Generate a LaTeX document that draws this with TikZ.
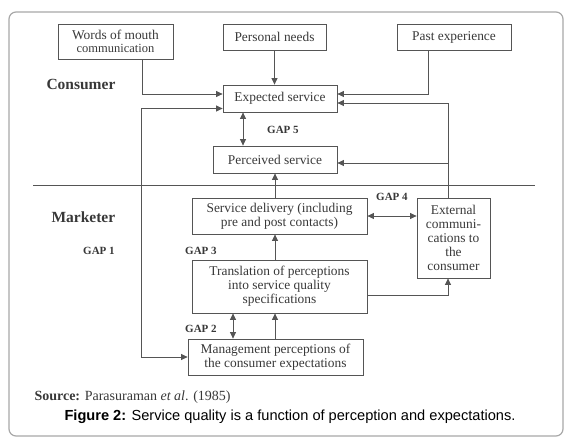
\documentclass[tikz,border=0pt]{standalone}
\usepackage{fontspec}
\setmainfont{Liberation Serif}
\newfontfamily\capfont{Liberation Sans}
\usepackage{xcolor}
\usetikzlibrary{arrows.meta, positioning, calc}
\definecolor{linegray}{HTML}{555555}
\definecolor{textgray}{HTML}{383838}
\definecolor{framegray}{HTML}{A8A8A8}
\begin{document}
\begin{tikzpicture}[x=1pt,y=-1pt,
		box/.style={draw=linegray,line width=0.8pt,text=textgray,align=center,inner sep=2pt,font=\fontsize{13.4}{14}\selectfont},
		conn/.style={draw=linegray,line width=0.8pt,-{Triangle[length=6.5pt,width=6pt]}},
		dconn/.style={draw=linegray,line width=0.8pt,{Triangle[length=6.5pt,width=6pt]}-{Triangle[length=6.5pt,width=6pt]}},
		side/.style={anchor=west,text=textgray,font=\fontsize{15.5}{16}\bfseries\selectfont},
		gap/.style={anchor=west,text=textgray,inner sep=0pt,font=\fontsize{11}{12}\bfseries\selectfont}]
		\useasboundingbox (0,0) rectangle (572,441);
		\draw [framegray,line width=1.2pt,rounded corners=7pt] (9,12) rectangle (563,436);
		\node [box,minimum width=115pt,minimum height=35pt] at (115.5,41.5) (wom) {Words of mouth\\[-1pt]{\fontsize{12.5}{13}\selectfont communication}};
		\node [box,minimum width=103pt,minimum height=26pt] at (274.5,37) (needs) {Personal needs};
		\node [box,minimum width=114pt,minimum height=26pt] at (454,37) (past) {Past experience};
		\node [box,minimum width=114pt,minimum height=27pt] at (280,98.5) (exp) {Expected service};
		\node [box,minimum width=124pt,minimum height=27pt] at (275,159.5) (perc) {Perceived service};
		\node [box,minimum width=175pt,minimum height=36pt] at (279.5,216) (deliv) {Service delivery (including\\pre and post contacts)};
		\node [box,minimum width=73pt,minimum height=80pt] at (453.5,238) (ext) {External\\communi-\\cations to\\the\\consumer};
		\node [box,minimum width=175pt,minimum height=53pt] at (279.5,286.5) (trans) {Translation of perceptions\\into service quality\\specifications};
		\node [box,minimum width=175pt,minimum height=36pt] at (275.5,357) (mgmt) {Management perceptions of\\the consumer expectations};
		\coordinate (extup) at ([xshift=-5.5pt]ext.north);
		\coordinate (gapone) at ([xshift=-46pt]mgmt.west);
		\draw [linegray,line width=0.6pt] (33,185) -- (535,185);
		\draw [conn] ([xshift=26.5pt]wom.south) |- ([yshift=4.5pt]exp.west);
		\draw [conn] (needs.south) -- (needs.south |- exp.north);
		\draw [conn] ([xshift=-26pt]past.south) |- ([yshift=4.5pt]exp.east);
		\draw [conn] (extup) |- ([yshift=-4.5pt]exp.east);
		\draw [conn] ([yshift=-3.5pt]perc.east -| extup) -- ([yshift=-3.5pt]perc.east);
		\draw [dconn] ([xshift=-37pt]exp.south) -- ([xshift=-37pt]exp.south |- perc.north);
		\draw [dconn] ([yshift=-10pt]exp.west) -| (gapone) -- (mgmt.west);
		\draw [conn] (perc.south |- deliv.north) -- (perc.south);
		\draw [dconn] (deliv.east) -- (deliv.east -| ext.west);
		\draw [conn] (perc.south |- trans.north) -- (perc.south |- deliv.south);
		\draw [conn] ([yshift=-8.5pt]trans.east) -| (extup |- ext.south);
		\draw [conn] (perc.south |- mgmt.north) -- (perc.south |- trans.south);
		\draw [dconn] ([xshift=-42.5pt]mgmt.north) -- ([xshift=-42.5pt]mgmt.north |- trans.south);
		\node [side] at (43,84) (cons) {Consumer};
		\node [side] at (48,217) (mark) {Marketer};
		\node [gap] at (267,130) (g5) {GAP 5};
		\node [gap] at (376,197) (g4) {GAP 4};
		\node [gap] at (83,251) (g1) {GAP 1};
		\node [gap] at (185,251) (g3) {GAP 3};
		\node [gap] at (185,329) (g2) {GAP 2};
		\node [anchor=west,text=textgray,font=\fontsize{14}{15}\selectfont] at (31,397) (src) {\textbf{Source:} Parasuraman \textit{et al}. (1985)};
		\node [font=\capfont\fontsize{14.6}{16}\selectfont] at (290,417) (cap) {\textbf{Figure 2:} Service quality is a function of perception and expectations.};
	\end{tikzpicture}
\end{document}
